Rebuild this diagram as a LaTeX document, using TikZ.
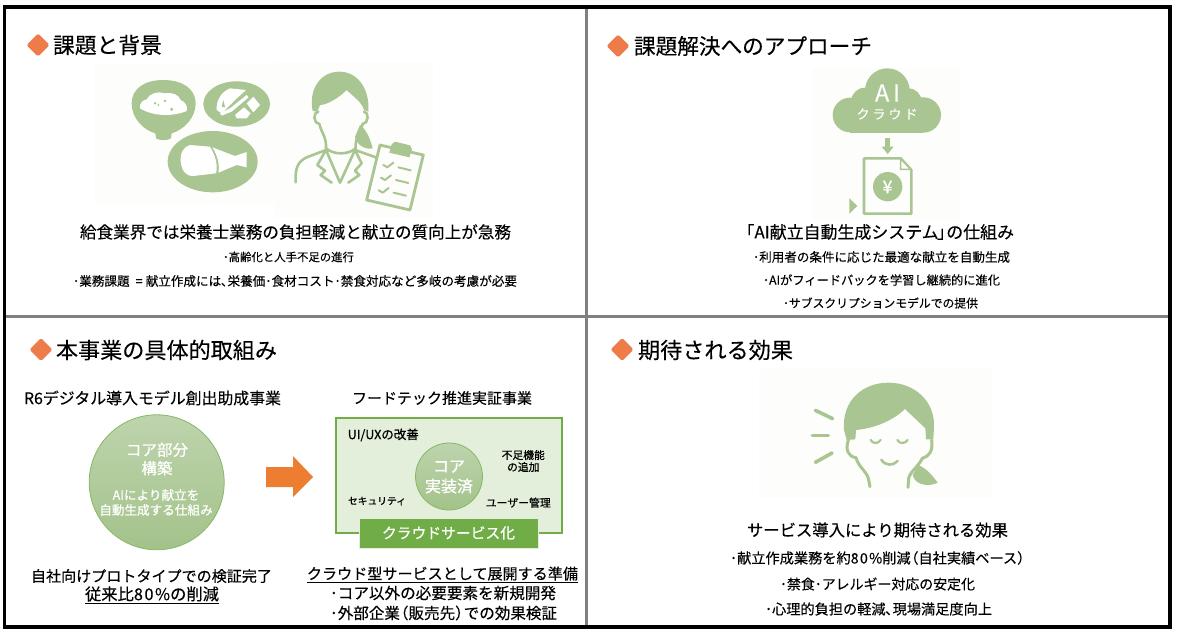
\documentclass[tikz,border=0pt]{standalone}
\usepackage{fontspec}
\setmainfont{Noto Sans CJK JP}[FakeBold=0.25]
\newfontfamily\heavyfont{Noto Sans CJK JP}[FakeBold=0.7]
\definecolor{icon}{HTML}{A9C592}
\definecolor{pale}{HTML}{FDFEFC}
\definecolor{leaf}{HTML}{70AD47}
\definecolor{boxfill}{HTML}{E3EFDA}
\definecolor{orangeA}{HTML}{ED7D31}
\definecolor{diamondc}{HTML}{EE7B4A}
\newcommand{\fitw}[2]{\resizebox{#1pt}{!}{#2}}
\newcommand{\eighty}{8\kern1.5pt 0\kern1.5pt\%}
\tikzset{
 x=1pt,y=-1pt,
 txt/.style={inner sep=0,text=black,font=\fontsize{16}{19}\selectfont},
 tagtext/.style={inner sep=0,font=\heavyfont\fontsize{11}{13}\selectfont,text=black,align=center},
 wht/.style={inner sep=0,text=white,align=center},
 icoline/.style={draw=icon,line width=2.6pt,line cap=round,line join=round,fill=none},
 diamondmark/.style={fill=diamondc,draw=none,rounded corners=1.5pt},
}
\begin{document}
\begin{tikzpicture}
\useasboundingbox (0,0) rectangle (1178,637);
\fill[white] (0,0) rectangle (1178,637);
% panel diamonds
\foreach \cx/\cy in {38/45,618/46,41/349.5,622/349.5}
 \fill[diamondmark] (\cx-11.5,\cy) -- (\cx,\cy-11.5) -- (\cx+11.5,\cy) -- (\cx,\cy+11.5) -- cycle;
\node[txt] (t1) at (107.5,45) {\fitw{109}{課題と背景}};
\node[txt] (t2) at (753,46) {\fitw{238}{課題解決へのアプローチ}};
\node[txt] (t3) at (166.5,350) {\fitw{221}{本事業の具体的取組み}};
\node[txt] (t4) at (715.5,350) {\fitw{155}{期待される効果}};
% ---------- panel 1 picture
\begin{scope}[shift={(90,50)},scale=1/3]
 \fill[pale] (12,45) rectangle (555,460);
 \fill[pale] (555,35) rectangle (1030,505);
 % bowl
 \fill[icon] (125,160) .. controls (125,115) and (165,90) .. (220,90) .. controls (275,90) and (317,115) .. (317,160) .. controls (317,205) and (280,240) .. (245,250) -- (243,265) .. controls (235,272) and (205,272) .. (198,265) -- (196,250) .. controls (160,240) and (125,205) .. (125,160) -- cycle;
 \fill[white] (150,175) .. controls (148,160) and (158,150) .. (170,148) .. controls (178,130) and (205,122) .. (225,130) .. controls (245,125) and (268,135) .. (272,150) .. controls (285,155) and (295,170) .. (290,183) .. controls (250,200) and (190,200) .. (150,175) -- cycle;
 \fill[icon] (195,160) circle (4);
 \fill[icon] (225,153) circle (4);
 \fill[icon] (245,178) circle (5);
 \fill[icon] (205,165) circle (3);
 % plate 2
 \fill[icon] (440,162) ellipse [x radius=100,y radius=68];
 \fill[white] (380,180) .. controls (378,150) and (395,125) .. (420,115) -- (468,120) -- (430,155) -- (395,190) -- cycle;
 \fill[icon] (400,150) -- (395,170) -- (405,172) -- cycle;
 \fill[white] (390,190) -- (420,175) -- (470,135) -- (476,142) -- (425,185) -- (395,197) -- cycle;
 \fill[white] (470,160) -- (490,140) -- (510,165) -- (490,187) -- cycle;
 \fill[white] (435,195) -- (462,172) -- (482,190) -- (470,205) -- (440,205) -- cycle;
 % plate 3
 \fill[icon] (368,335) ellipse [x radius=135,y radius=92];
 \fill[white] (300,285) .. controls (280,290) and (270,310) .. (272,335) .. controls (275,360) and (285,378) .. (310,378) -- (378,370) .. controls (385,345) and (375,315) .. (360,290) -- cycle;
 \fill[white] (367,292) -- (435,318) -- (470,306) -- (470,352) -- (440,345) -- (385,368) .. controls (390,345) and (382,315) .. (367,292) -- cycle;
 % person
 \fill[icon] (668,183) .. controls (655,120) and (690,65) .. (748,65) .. controls (805,65) and (840,120) .. (835,185) -- (822,180) .. controls (815,155) and (790,140) .. (770,120) .. controls (745,145) and (710,165) .. (690,165) -- (682,185) -- cycle;
 \draw[icoline] (685,185) .. controls (668,185) and (670,222) .. (688,222) .. controls (695,250) and (710,262) .. (708,295) .. controls (730,315) and (775,315) .. (797,295) .. controls (795,262) and (810,250) .. (818,222) .. controls (836,222) and (838,185) .. (822,185);
 \fill[icon] (810,225) .. controls (830,240) and (840,265) .. (848,295) .. controls (825,300) and (800,285) .. (795,260) -- cycle;
 \draw[icoline] (617,397) .. controls (615,350) and (625,335) .. (650,322) -- (708,300) -- (750,398) -- (795,300) -- (858,322);
 \draw[icoline] (708,300) -- (682,345) -- (705,362) -- (692,375) -- (725,398);
 \draw[icoline] (795,300) -- (815,340) -- (795,362) -- (808,375) -- (775,398);
 \draw[draw=icon,line width=2.8pt,line join=round,fill=pale] (870,285) -- (1000,315) -- (960,480) -- (830,450) -- cycle;
 \fill[icon] (905,283) -- (915,275) -- (960,286) -- (966,298) -- (958,322) -- (898,308) -- cycle;
 \foreach \a in {0,1,2} {
  \draw[icoline,line width=2pt] (880+\a*-7,345+\a*38) -- (892+\a*-7,352+\a*38) -- (910+\a*-7,338+\a*38);
  \draw[icoline,line width=2pt] (925+\a*-7,352+\a*38) -- (962+\a*-7,361+\a*38);
 }
\end{scope}
\node[txt] (p1a) at (295.5,232) {\fitw{431}{給食業界では栄養士業務の負担軽減と献立の質向上が急務}};
\node[txt] (p1b) at (288.5,257) {\fitw{131}{･高齢化と人手不足の進行}};
\node[txt] (p1c) at (295,281) {\fitw{444}{･業務課題 \kern.25em=\kern.25em 献立作成には､栄養価･食材コスト･禁食対応など多岐の考慮が必要}};
% ---------- panel 2 picture
\begin{scope}[shift={(780,60)},scale=1/3]
 \fill[pale] (95,25) rectangle (540,480);
 \fill[icon] (210,165) circle (52);
 \fill[icon] (322,92) circle (67);
 \fill[icon] (430,165) circle (53);
 \fill[icon] (255,125) circle (42);
 \fill[icon] (385,125) circle (40);
 \fill[icon] (210,120) rectangle (430,218);
 \fill[icon] (316,233) rectangle (330,262);
 \fill[icon] (305,260) -- (341,260) -- (323,282) -- cycle;
 \draw[draw=icon,line width=2.6pt,line join=round,fill=pale] (252,295) -- (362,295) -- (394,330) -- (394,461) -- (252,461) -- cycle;
 \draw[draw=icon,line width=1.4pt,fill=pale] (362,297) -- (362,328) -- (392,328) -- cycle;
 \fill[icon] (323,380) circle (44);
 \fill[icon] (208,415) -- (232,438) -- (208,461) -- cycle;
\end{scope}
\node[wht,font=\fontsize{21}{24}\selectfont] (aiw) at (887.5,93) {\fitw{25}{A\,I}};
\node[wht,font=\fontsize{13.5}{16}\selectfont] (clw) at (887,114) {\fitw{61}{ク ラ ウ ド}};
\node[wht,font=\heavyfont\fontsize{18}{20}\selectfont] (yen) at (887.5,187) {¥};
\node[txt] (p2a) at (880,232) {\fitw{268}{\kern-.5em「AI献立自動生成システム\kern-.1em」\kern-.45emの仕組み}};
\node[txt] (p2b) at (881.5,257) {\fitw{257}{･利用者の条件に応じた最適な献立を自動生成}};
\node[txt] (p2c) at (881.5,280) {\fitw{237}{･AIがフィードバックを学習し継続的に進化}};
\node[txt] (p2d) at (880.5,303) {\fitw{195}{･サブスクリプションモデルでの提供}};
% ---------- panel 3
\node[txt] (p3l) at (152.5,398) {\fitw{257}{R6デジタル導入モデル創出助成事業}};
\node[txt] (p3r) at (442,398) {\fitw{180}{フードテック推進実証事業}};
\node[circle,minimum size=135pt,inner sep=0,draw=leaf!85,line width=.8pt,top color=icon!75!white,bottom color=icon!90!leaf] (core) at (156.7,482.3) {};
\node[wht,font=\heavyfont\fontsize{15.5}{18.5}\selectfont] (c1) at (157,459) {コア部分\\構築};
\node[wht,font=\heavyfont\fontsize{12.6}{15}\selectfont] (c2) at (156,502.5) {AIにより献立を\\自動生成する仕組み};
\fill[orangeA] (266,467) -- (293,467) -- (293,456) -- (313,477) -- (293,497) -- (293,487) -- (266,487) -- cycle;
\node[rectangle,draw=leaf,line width=2pt,fill=boxfill,minimum width=226pt,minimum height=115pt,inner sep=0] (box) at (449,475.5) {};
\node[circle,minimum size=67pt,inner sep=0,draw=leaf!85,line width=.8pt,top color=icon!75!white,bottom color=icon!90!leaf] (core2) at (449,476.5) {};
\node[wht,font=\heavyfont\fontsize{16}{20}\selectfont] (c3) at (449,477) {コア\\実装済};
\node[tagtext] (k1) at (383.3,435) {\fitw{71}{UI/UXの改善}};
\node[tagtext,font=\heavyfont\fontsize{10.8}{12}\selectfont] (k2) at (523.3,461) {不足機能\\の追加};
\node[tagtext] (k3) at (377,501) {\fitw{58}{セキュリティ}};
\node[tagtext] (k4) at (518.3,502.7) {\fitw{65}{ユーザー管理}};
\node[rectangle,fill=leaf,draw=boxfill,line width=.8pt,minimum width=179pt,minimum height=30pt,inner sep=0,text=white] (cs) at (448.5,533) {\heavyfont\fontsize{15}{18}\selectfont\fitw{133}{クラウドサービス化}};
\node[txt] (n1) at (151.5,576) {\fitw{241}{自社向けプロトタイプでの検証完了}};
\node[txt] (n2) at (152,595) {\fitw{134}{\underline{従来比\eighty の削減}}};
\node[txt] (n3) at (442.5,574.5) {\fitw{271}{\underline{クラウド型サービスとして展開する準備}}};
\node[txt] (n4) at (443,593) {\fitw{226}{･コア以外の必要要素を新規開発}};
\node[txt] (n5) at (443.5,613) {\fitw{227}{･外部企業\kern-.45em（販売先）\kern-.45emでの効果検証}};
% ---------- panel 4 picture
\begin{scope}[shift={(750,360)},scale=1/3]
 \fill[pale] (28,28) rectangle (725,415);
 \fill[icon] (282,210) .. controls (275,120) and (340,68) .. (415,68) .. controls (495,68) and (555,125) .. (552,200) -- (550,238) -- (528,238) -- (526,205) -- (465,147) .. controls (425,185) and (370,205) .. (318,210) -- (316,238) -- (290,240) -- cycle;
 \draw[icoline,line width=3pt] (295,240) .. controls (285,270) and (295,290) .. (318,293) .. controls (325,320) and (350,335) .. (355,355) -- (360,380);
 \draw[icoline,line width=3pt] (545,240) .. controls (550,275) and (535,290) .. (517,295) .. controls (505,320) and (480,335) .. (476,355) -- (474,382);
 \fill[icon] (505,315) .. controls (530,325) and (550,350) .. (563,368) .. controls (535,382) and (495,375) .. (488,345) -- cycle;
 \draw[icoline,line width=2.2pt] (362,240) .. controls (368,252) and (385,252) .. (392,240);
 \draw[icoline,line width=2.2pt] (442,240) .. controls (448,252) and (465,252) .. (473,240);
 \draw[icoline,line width=2.6pt] (394,299) .. controls (405,318) and (430,318) .. (443,303);
 \draw[icoline,line width=3.6pt] (196,151) -- (248,176);
 \draw[icoline,line width=3.6pt] (187,227) -- (235,227);
 \draw[icoline,line width=3.6pt] (196,307) -- (246,279);
\end{scope}
\node[txt] (p4a) at (877.5,530) {\fitw{261}{サービス導入により期待される効果}};
\node[txt] (p4b) at (877.5,558) {\fitw{295}{･献立作成業務を約\eighty 削減\kern-.45em（自社実績ベース）\kern-.45em}};
\node[txt] (p4c) at (877.5,584) {\fitw{195}{･禁食･アレルギー対応の安定化}};
\node[txt] (p4d) at (878.5,609) {\fitw{227}{･心理的負担の軽減､現場満足度向上}};
% frame
\draw[draw=black!50,line width=3pt] (586.5,7) -- (586.5,627) (4,316.5) -- (1170,316.5);
\draw[black,line width=3.2pt] (4.5,7) rectangle (1170,627);
\end{tikzpicture}
\end{document}
